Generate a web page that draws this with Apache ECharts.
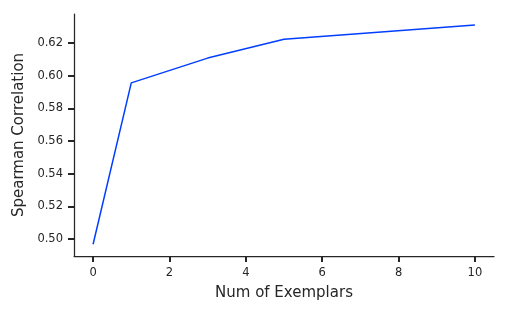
<!DOCTYPE html>
<html>
<head>
<meta charset="utf-8">
<script src="https://cdn.jsdelivr.net/npm/echarts@6/dist/echarts.min.js"></script>
<style>
html,body{margin:0;padding:0;background:#fff;}
#chart{width:509px;height:315px;}
</style>
</head>
<body>
<div id="chart"></div>
<script>
const xValues = [0, 1, 3, 5, 10];
const yValues = [0.4968, 0.5956, 0.6108, 0.6224, 0.6310];
const xTicks = [0, 2, 4, 6, 8, 10];
const yTicks = [0.50, 0.52, 0.54, 0.56, 0.58, 0.60, 0.62];

const axisColor = '#262626';
const font = 'DejaVu Sans';
const chart = echarts.init(document.getElementById('chart'), null, {renderer: 'canvas'});
chart.setOption({
  animation: false,
  grid: {left: 74, right: 15, top: 14, bottom: 59, containLabel: false},
  xAxis: {
    type: 'value', min: -0.5, max: 10.5,
    name: 'Num of Exemplars', nameLocation: 'middle', nameGap: 30,
    nameTextStyle: {fontFamily: font, fontSize: 15, color: axisColor},
    axisLine: {show: true, onZero: false, lineStyle: {color: axisColor, width: 1.25}},
    axisTick: {show: true, length: 6, customValues: xTicks, lineStyle: {color: axisColor, width: 2}},
    axisLabel: {show: true, customValues: xTicks, margin: 11, fontFamily: font, fontSize: 11.5, color: axisColor},
    splitLine: {show: false}
  },
  yAxis: {
    type: 'value', min: 0.4896, max: 0.6378,
    name: 'Spearman Correlation', nameLocation: 'middle', nameGap: 45,
    nameTextStyle: {fontFamily: font, fontSize: 15, color: axisColor},
    axisLine: {show: true, onZero: false, lineStyle: {color: axisColor, width: 1.25}},
    axisTick: {show: true, length: 6, customValues: yTicks, lineStyle: {color: axisColor, width: 2}},
    axisLabel: {show: true, customValues: yTicks, margin: 11, fontFamily: font, fontSize: 11.5, color: axisColor,
      formatter: v => v.toFixed(2)},
    splitLine: {show: false}
  },
  series: [{
    type: 'line',
    data: xValues.map((x, i) => [x, yValues[i]]),
    showSymbol: false,
    lineStyle: {color: '#023eff', width: 1.5},
    itemStyle: {color: '#023eff'}
  }]
});
</script>
</body>
</html>
